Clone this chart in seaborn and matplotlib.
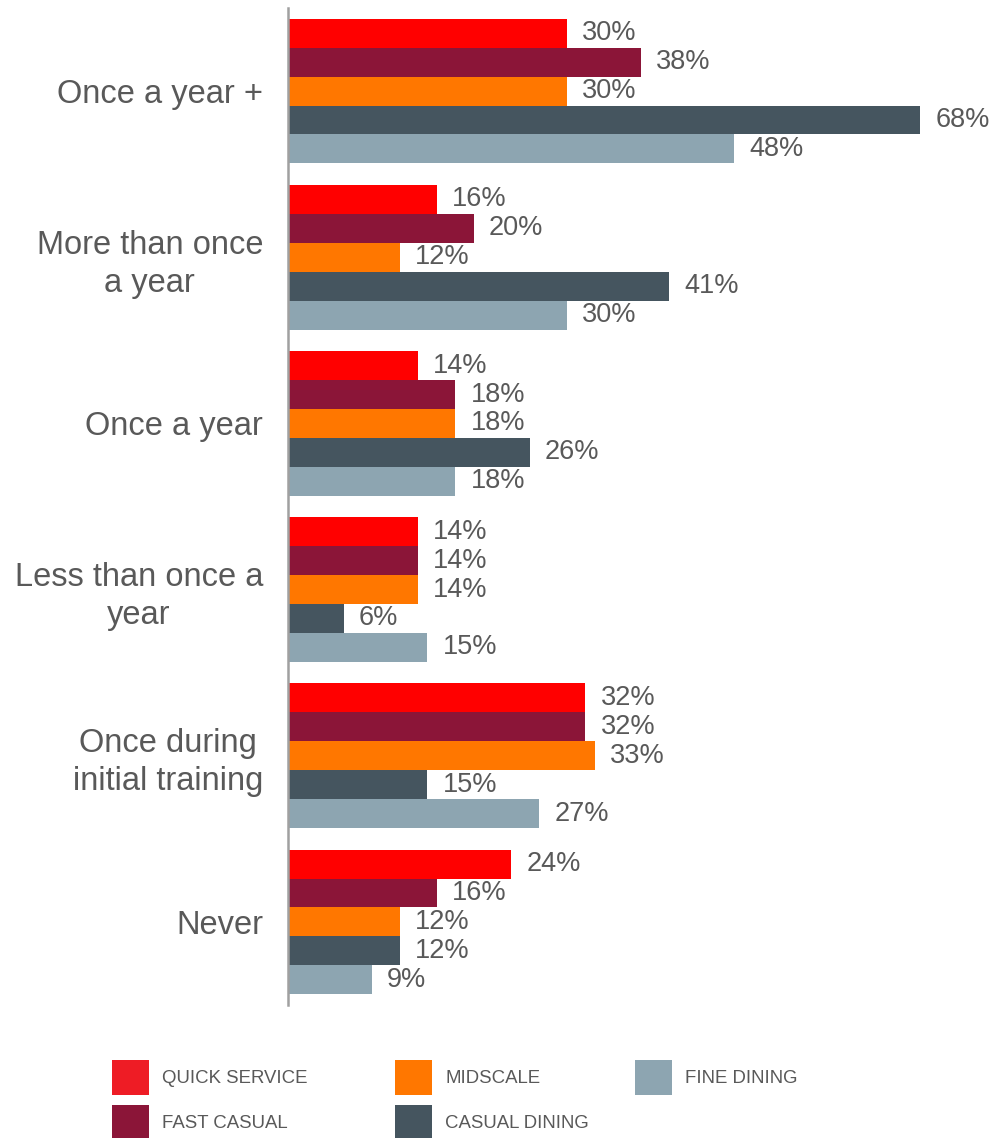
import matplotlib
matplotlib.use("Agg")
import matplotlib.pyplot as plt
from matplotlib.patches import Patch
import seaborn as sns
import pandas as pd

# Datos
categorias = ["Once a year +", "More than once\na year", "Once a year",
              "Less than once a\nyear", "Once during\ninitial training", "Never"]
segmentos = ["QUICK SERVICE", "FAST CASUAL", "MIDSCALE", "CASUAL DINING", "FINE DINING"]
quick_service = [30, 16, 14, 14, 32, 24]
fast_casual = [38, 20, 18, 14, 32, 16]
midscale = [30, 12, 18, 14, 33, 12]
casual_dining = [68, 41, 26, 6, 15, 12]
fine_dining = [48, 30, 18, 15, 27, 9]

colores = ["#FF0000", "#8B1538", "#FF7700", "#45555F", "#8DA5B1"]
colores_leyenda = ["#EE1C25", "#8B1538", "#FF7700", "#45555F", "#8DA5B1"]
gris_texto = "#595959"

series = [quick_service, fast_casual, midscale, casual_dining, fine_dining]
filas = []
for seg, vals in zip(segmentos, series):
    for cat, v in zip(categorias, vals):
        filas.append({"categoria": cat, "segmento": seg, "valor": v})
df = pd.DataFrame(filas)

sns.set_style("white")
plt.rcParams['font.family'] = ['Liberation Sans', 'DejaVu Sans']

fig = plt.figure(figsize=(10.05, 11.38), dpi=100)
ax = fig.add_axes([288 / 1005, 1 - 1005 / 1138, 0.98 - 288 / 1005, (1005 - 8) / 1138])

sns.barplot(data=df, y="categoria", x="valor", hue="segmento", order=categorias,
            hue_order=segmentos, palette=colores, saturation=1, orient="h", width=0.87,
            linewidth=0, legend=False, ax=ax)

for cont in ax.containers:
    ax.bar_label(cont, labels=[f"{v:.0f}%" for v in cont.datavalues], padding=11,
                 fontsize=19.5, color=gris_texto)

ax.set_xlim(0, 75)
ax.set_ylim(5.5, -0.5)
ax.set_xlabel("")
ax.set_ylabel("")
ax.set_xticks([])
ax.tick_params(axis="y", length=0, pad=18, labelsize=23.5, labelcolor=gris_texto)
for lbl in ax.get_yticklabels():
    lbl.set_multialignment("center")
    lbl.set_linespacing(1.3)

for lado in ["top", "right", "bottom"]:
    ax.spines[lado].set_visible(False)
ax.spines["left"].set_color("#A0A0A0")
ax.spines["left"].set_linewidth(1.8)

# Leyenda en tres columnas colocadas a mano
columnas = [([0, 1], 112), ([2, 3], 395), ([4], 635)]
for idx, x in columnas:
    handles = [Patch(facecolor=colores_leyenda[i], edgecolor="none", label=segmentos[i]) for i in idx]
    fig.legend(handles=handles, loc="upper left", bbox_to_anchor=(x / 1005, 1 - 1060 / 1138),
               frameon=False, fontsize=13.4, handlelength=2.0, handleheight=2.52,
               handletextpad=0.7, labelspacing=0.54, borderpad=0, borderaxespad=0,
               labelcolor=gris_texto)

fig.savefig("out.png", dpi=100)
